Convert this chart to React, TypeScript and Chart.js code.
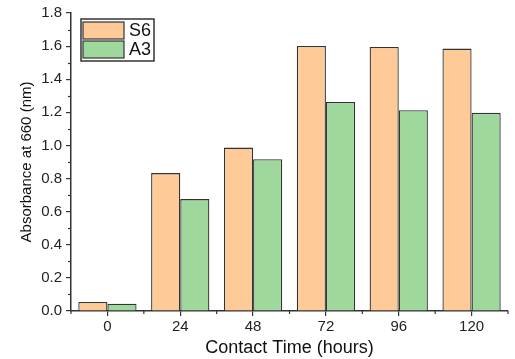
import React, { useEffect, useRef } from "react";
import { Chart, registerables } from "chart.js";

Chart.register(...registerables);

const categories = ["0", "24", "48", "72", "96", "120"];
const s6Values = [0.054, 0.833, 0.987, 1.601, 1.595, 1.585];
const a3Values = [0.044, 0.676, 0.917, 1.263, 1.213, 1.197];
const seriesNames = ["S6", "A3"];
const yMin = 0;
const yMax = 1.8;
const yStep = 0.2;

const FONT = "'Liberation Sans', Arial, sans-serif";
const AXIS = "#333333";

const minorTicks = {
  id: "minorTicks",
  afterDraw(chart: any) {
    const ctx = chart.ctx;
    const x = chart.scales.x;
    const y = chart.scales.y;
    ctx.save();
    ctx.strokeStyle = AXIS;
    ctx.lineWidth = 1.2;
    for (let v = yMin + yStep / 2; v < yMax; v += yStep) {
      const py = Math.round(y.getPixelForValue(v)) + 0.5;
      ctx.beginPath();
      ctx.moveTo(x.left - 3, py);
      ctx.lineTo(x.left, py);
      ctx.stroke();
    }
    for (let i = 0; i <= categories.length; i++) {
      const px = x.getPixelForValue(i - 0.5);
      ctx.beginPath();
      ctx.moveTo(px, y.bottom);
      ctx.lineTo(px, y.bottom + 3);
      ctx.stroke();
    }
    ctx.restore();
  },
};

const boxLegend = {
  id: "boxLegend",
  afterDraw(chart: any) {
    const ctx = chart.ctx;
    const area = chart.chartArea;
    const bx = area.left + 10;
    const by = area.top + 6;
    const bw = 73;
    const bh = 42;
    ctx.save();
    ctx.fillStyle = "#ffffff";
    ctx.fillRect(bx, by, bw, bh);
    ctx.strokeStyle = AXIS;
    ctx.lineWidth = 1.5;
    ctx.strokeRect(bx, by, bw, bh);
    chart.data.datasets.forEach((ds: any, i: number) => {
      const sy = by + 3 + i * 19;
      ctx.fillStyle = ds.backgroundColor;
      ctx.fillRect(bx + 2, sy, 41, 17);
      ctx.strokeStyle = AXIS;
      ctx.lineWidth = 1.2;
      ctx.strokeRect(bx + 2, sy, 41, 17);
      ctx.fillStyle = "#111";
      ctx.font = `18px ${FONT}`;
      ctx.textBaseline = "middle";
      ctx.textAlign = "left";
      ctx.fillText(ds.label, bx + 48, sy + 9);
    });
    ctx.restore();
  },
};

export default function App() {
  const ref = useRef<HTMLCanvasElement | null>(null);
  useEffect(() => {
    if (!ref.current) return;
    const chart = new Chart(ref.current, {
      type: "bar",
      data: {
        labels: categories,
        datasets: [
          {
            label: seriesNames[0],
            data: s6Values,
            backgroundColor: "#FDCA98",
            borderColor: AXIS,
            borderWidth: 1.3,
            borderSkipped: "bottom",
          },
          {
            label: seriesNames[1],
            data: a3Values,
            backgroundColor: "#9ED89D",
            borderColor: AXIS,
            borderWidth: 1.3,
            borderSkipped: "bottom",
          },
        ],
      },
      options: {
        animation: false,
        responsive: false,
        devicePixelRatio: 1,
        layout: { padding: { top: 13, right: 7, left: 0, bottom: 0 } },
        datasets: { bar: { categoryPercentage: 0.8, barPercentage: 1 } },
        plugins: {
          legend: { display: false },
          tooltip: { enabled: false },
        },
        scales: {
          x: {
            offset: true,
            grid: {
              offset: false,
              drawOnChartArea: false,
              drawTicks: true,
              tickLength: 5,
              color: AXIS,
              lineWidth: 1.2,
            },
            border: { color: AXIS, width: 1.5 },
            ticks: { color: "#222", font: { family: FONT, size: 15 }, padding: 2 },
            title: {
              display: true,
              text: "Contact Time (hours)",
              color: "#111",
              font: { family: FONT, size: 18 },
              padding: { top: 0, bottom: 0 },
            },
            afterFit(scale: any) {
              scale.height = 48;
            },
          },
          y: {
            min: yMin,
            max: yMax,
            grid: {
              drawOnChartArea: false,
              drawTicks: true,
              tickLength: 5,
              color: AXIS,
              lineWidth: 1.2,
            },
            border: { color: AXIS, width: 1.5 },
            ticks: {
              stepSize: yStep,
              color: "#222",
              font: { family: FONT, size: 15 },
              padding: 4,
              callback: (v: any) => Number(v).toFixed(1),
            },
            title: {
              display: true,
              text: "Absorbance at 660 (nm)",
              color: "#111",
              font: { family: FONT, size: 15 },
              padding: { top: 18, bottom: 0 },
            },
            afterFit(scale: any) {
              scale.width = 71;
            },
          },
        },
      },
      plugins: [minorTicks, boxLegend],
    });
    return () => chart.destroy();
  }, []);
  return (
    <div style={{ position: "absolute", left: 0, top: 0, width: 515, height: 359, background: "#fff" }}>
      <canvas ref={ref} width={515} height={359} style={{ width: 515, height: 359 }} />
    </div>
  );
}
